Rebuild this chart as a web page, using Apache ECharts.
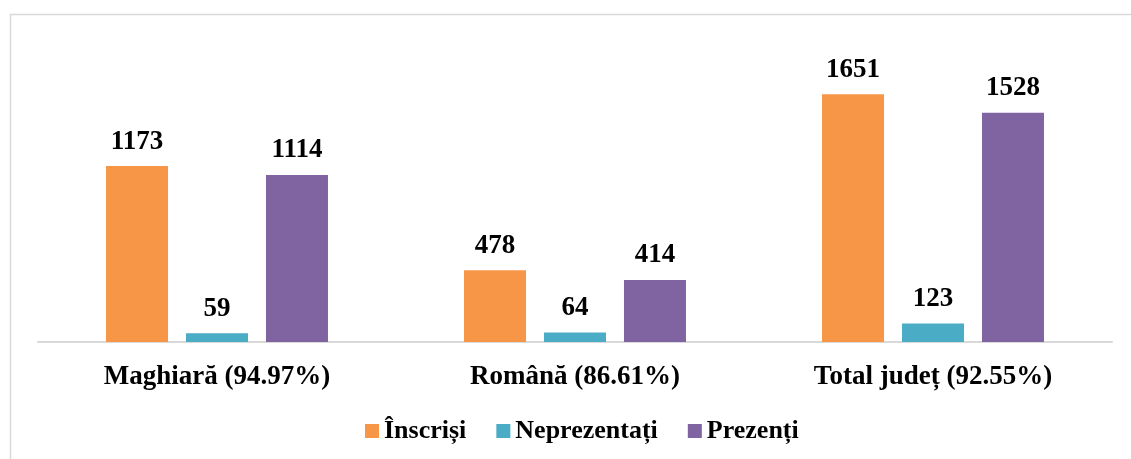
<!DOCTYPE html>
<html>
<head>
<meta charset="utf-8">
<script src="https://cdn.jsdelivr.net/npm/echarts@6/dist/echarts.min.js"></script>
<style>
  html, body { margin: 0; padding: 0; background: #fff; }
  #chart { width: 1131px; height: 459px; }
</style>
</head>
<body>
<div id="chart"></div>
<script>
// categorii si valori
var categories = ['Maghiară (94.97%)', 'Română (86.61%)', 'Total județ (92.55%)'];
var seriesNames = ['Înscriși', 'Neprezentați', 'Prezenți'];
var inscrisi = [1173, 478, 1651];
var neprezentati = [59, 64, 123];
var prezenti = [1114, 414, 1528];

var colors = ['#F79646', '#4BACC6', '#8064A2'];
var fontFam = '"Liberation Serif", "Times New Roman", serif';

var chart = echarts.init(document.getElementById('chart'));

function makeSeries(name, data, color) {
    return {
        name: name,
        type: 'bar',
        data: data,
        barWidth: 62,
        barGap: '29%',
        itemStyle: { color: color },
        label: {
            show: true,
            position: 'top',
            distance: 11,
            color: '#000',
            fontFamily: fontFam,
            fontWeight: 'bold',
            fontSize: 27
        }
    };
}

var option = {
    animation: false,
    color: colors,
    // chenarul gri din jurul graficului
    graphic: [{
        type: 'rect',
        left: 8,
        top: 12,
        shape: { width: 1200, height: 600 },
        style: { fill: 'none', stroke: '#d9d9d9', lineWidth: 1.5 },
        silent: true
    }],
    grid: {
        left: 38,
        right: 19,
        top: 72,
        bottom: 117,
        containLabel: false
    },
    legend: {
        top: 413,
        left: 360,
        itemWidth: 14,
        itemHeight: 14,
        itemGap: 30,
        icon: 'rect',
        data: seriesNames,
        textStyle: {
            fontFamily: fontFam,
            fontWeight: 'bold',
            fontSize: 26,
            color: '#000'
        }
    },
    xAxis: {
        type: 'category',
        data: categories,
        axisLine: { lineStyle: { color: '#d9d9d9', width: 2 } },
        axisTick: { show: false },
        axisLabel: {
            margin: 22,
            color: '#000',
            fontFamily: fontFam,
            fontWeight: 'bold',
            fontSize: 27
        }
    },
    yAxis: {
        type: 'value',
        min: 0,
        max: 1800,
        show: false,
        splitLine: { show: false }
    },
    series: [
        makeSeries(seriesNames[0], inscrisi, colors[0]),
        makeSeries(seriesNames[1], neprezentati, colors[1]),
        makeSeries(seriesNames[2], prezenti, colors[2])
    ]
};

chart.setOption(option);
</script>
</body>
</html>
